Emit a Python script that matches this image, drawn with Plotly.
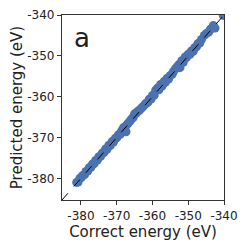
import plotly.graph_objects as go

correct = [-381.2, -380.8, -380.3, -379.9, -379.5, -379.0, -378.6, -378.1, -377.7, -377.2,
           -376.8, -376.3, -375.9, -375.4, -375.0, -374.5, -374.0, -373.6, -373.1, -372.7,
           -372.2, -371.8, -371.3, -370.9, -370.4, -370.0, -369.5, -369.0, -368.6, -368.1,
           -367.7, -367.4, -367.2, -366.8, -366.3, -365.9, -365.4, -365.0, -364.5, -364.0,
           -363.6, -363.1, -362.7, -362.2, -361.8, -361.3, -360.9, -360.4, -360.0, -359.5,
           -359.1, -358.6, -358.2, -357.7, -357.3, -356.8, -356.4, -355.9, -355.5, -355.0,
           -354.5, -354.1, -353.6, -353.2, -352.7, -352.3, -351.8, -351.4, -350.9, -350.5,
           -350.0, -349.5, -349.1, -348.6, -348.2, -347.7, -347.3, -346.8, -346.3, -345.5,
           -344.9, -344.3, -343.8, -343.0, -342.5, -340.2]
predicted = [-381.0, -380.9, -380.0, -379.8, -379.3, -379.1, -378.3, -378.2, -377.4, -377.3,
             -376.5, -376.4, -375.6, -375.5, -374.7, -374.6, -373.8, -373.7, -372.8, -372.9,
             -371.9, -372.0, -371.0, -371.1, -370.2, -370.1, -369.3, -369.2, -368.3, -367.6,
             -367.4, -368.6, -366.9, -366.5, -366.0, -365.5, -365.1, -364.2, -364.0, -363.5,
             -363.3, -362.8, -362.5, -362.0, -361.6, -361.4, -360.6, -360.6, -359.7, -359.6,
             -358.4, -357.9, -358.3, -357.0, -357.4, -356.3, -356.5, -355.5, -355.7, -354.8,
             -354.5, -353.8, -353.2, -352.8, -352.2, -352.9, -351.2, -351.6, -350.3, -350.4,
             -349.6, -349.6, -348.8, -348.9, -348.0, -347.8, -347.0, -346.9, -346.0, -345.0,
             -344.5, -344.2, -343.5, -342.6, -343.2, -340.1]

lo, hi = -385.3, -340.0
tick_vals = [-380, -370, -360, -350, -340]

fig = go.Figure()
fig.add_trace(go.Scatter(
    x=correct, y=predicted, mode="markers",
    marker=dict(size=9, color="#4c72b0", line=dict(width=0)),
    showlegend=False,
))
fig.add_trace(go.Scatter(
    x=[lo, hi], y=[lo, hi], mode="lines",
    line=dict(color="black", width=1, dash="dash"),
    showlegend=False,
))

axis_common = dict(
    range=[lo, hi], tickvals=tick_vals, ticktext=[str(v) for v in tick_vals],
    showgrid=False, zeroline=False, showline=True, linecolor="#333333", linewidth=1.2,
    mirror=True, ticks="outside", ticklen=4, tickwidth=1, tickcolor="#333333",
    tickfont=dict(family="DejaVu Sans", size=12, color="#222222"),
    automargin=False,
)

fig.update_layout(
    width=241, height=241,
    margin=dict(l=54, r=25, t=7, b=49),
    plot_bgcolor="white", paper_bgcolor="white",
    xaxis=dict(**axis_common, title=dict(text="Correct energy (eV)", standoff=2,
               font=dict(family="DejaVu Sans", size=15, color="#222222"))),
    yaxis=dict(**axis_common, title=dict(text="Predicted energy (eV)", standoff=2,
               font=dict(family="DejaVu Sans", size=15, color="#222222"))),
    annotations=[dict(text="a", x=0.06, y=0.97, xref="paper", yref="paper",
                      xanchor="left", yanchor="top", showarrow=False,
                      font=dict(family="DejaVu Sans", size=26, color="#222222"))],
)

fig.write_html("out.html")
